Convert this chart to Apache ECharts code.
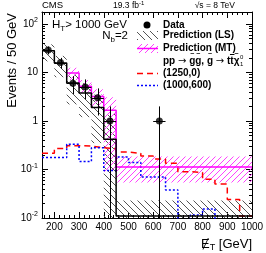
<!DOCTYPE html>
<html><head><meta charset="utf-8">
<script src="https://cdn.jsdelivr.net/npm/echarts@6/dist/echarts.min.js"></script>
<style>html,body{margin:0;padding:0;background:#fff}#c{width:266px;height:253px}</style>
</head><body><div id="c"></div>
<script>
// ---------------- data ----------------
const xTickLabels = [200, 300, 400, 500, 600, 700, 800, 900, 1000];
const yTickLabels = ['10{sup|-2}', '10{sup|-1}', '1', '10', '10{sup|2}'];

const dataX = [175, 225, 275, 325, 375, 425, 625];
const dataY = [29, 16, 6, 5, 3, 1, 1];
const dataErr = [5.4, 4.0, 2.4, 2.2, 1.7, 1.0, 1.0];

const lsEdges = [150, 200, 250, 300, 350, 400, 450, 1000];
const lsCentral = [28, 15.7, 6.1, 3.8, 1.9, 0.42, 0.011];
const lsLow = [17, 8, 2.2, 1.2, 0.35, 0.001, 0.001];
const lsHigh = [38, 22, 9, 6, 3.5, 1.4, 0.023];

const mtEdges = [250, 300, 350, 400, 450, 1000];
const mtCentral = [9.8, 5.2, 3.2, 1.67, 0.113];
const mtLow = [7, 3.8, 2.0, 0.09, 0.054];
const mtHigh = [12.5, 7, 4.5, 3.1, 0.185];

const sigEdges = [150, 200, 250, 300, 350, 400, 450, 500, 550, 600, 650, 700, 750, 800, 850, 900, 950, 1000];
const sig1250 = [0.215, 0.27, 0.31, 0.305, 0.28, 0.27, 0.23, 0.215, 0.19, 0.165, 0.135, 0.09, 0.087, 0.063, 0.05, 0.024, 0.011];
const sig1000 = [0.176, 0.176, 0.33, 0.146, 0.28, 0.095, 0.18, 0.14, 0.07, 0.07, 0.038, 0.001, 0.0115, 0.0153, 0.001, 0.001, 0.001];

// ---------------- helpers ----------------
const FONT = '"Liberation Sans", Arial, Helvetica, sans-serif';
const YMIN = 0.01, YMAX = 176.7, XMIN = 150, XMAX = 1000;

function stepPts(edges, vals) {
  const p = vals.map((v, i) => [edges[i], v]);
  p.push([edges[edges.length - 1], vals[vals.length - 1]]);
  return p;
}
function makeHatch(color, dir, s, lw) {
  const c = document.createElement('canvas'); c.width = s; c.height = s;
  const g = c.getContext('2d'); g.strokeStyle = color; g.lineWidth = lw;
  g.beginPath();
  for (let k = -1; k <= 1; k++) {
    if (dir === '\\') { g.moveTo(k * s, 0); g.lineTo(k * s + s, s); }
    else { g.moveTo(k * s + s, 0); g.lineTo(k * s, s); }
  }
  g.stroke();
  return c;
}
const lsHatch = { image: makeHatch('#555', '\\', 7, 1), repeat: 'repeat' };
const mtHatch = { image: makeHatch('#ff40ff', '/', 6, 1), repeat: 'repeat' };

function bandRender(pattern) {
  return function (params, api) {
    const cs = params.coordSys;
    const a = api.coord([api.value(0), api.value(3)]);
    const b = api.coord([api.value(1), api.value(2)]);
    const y0 = Math.max(a[1], cs.y), y1 = Math.min(b[1], cs.y + cs.height);
    return { type: 'rect', shape: { x: a[0], y: y0, width: b[0] - a[0], height: y1 - y0 },
      style: { fill: pattern, stroke: null } };
  };
}
function bandData(edges, low, high) {
  return low.map((l, i) => [edges[i], edges[i + 1], l, high[i]]);
}

// minor ticks
const xMinor = [];
for (let v = 160; v < 1000; v += 20) if (v % 100 !== 0) xMinor.push(v);
const yMinorLog = [];
for (let e = -2; e <= 2; e++) for (let k = 2; k <= 9; k++) {
  const l = Math.log10(k) + e; if (l < Math.log10(YMAX)) yMinorLog.push(l);
}

const supRich = {
  base: { fontSize: 10, fontFamily: FONT, color: '#000', lineHeight: 14 },
  sup: { fontSize: 7, fontFamily: FONT, color: '#000', verticalAlign: 'top', lineHeight: 9 }
};

// legend signal-process label, built from pieces
const mainFont = 'bold 10px ' + FONT;
const arrowFont = '10px "DejaVu Sans", sans-serif';
const procPieces = [
  { t: 'pp ', f: mainFont }, { t: '\u2192', f: arrowFont }, { t: ' g', f: mainFont, tilde: true },
  { t: 'g', f: mainFont, tilde: true }, { t: ', g', f: mainFont, tilde: true }, { t: ' ', f: mainFont },
  { t: '\u2192', f: arrowFont }, { t: ' t', f: mainFont }, { t: 't', f: mainFont, bar: true },
  { t: '\u03C7', f: mainFont, tilde: true, scripts: true }
];
const mctx = document.createElement('canvas').getContext('2d');
const PX = 163, PY = 61;
const procGraphics = [];
{
  let x = PX;
  procPieces.forEach(p => {
    mctx.font = p.f;
    const w = mctx.measureText(p.t).width;
    procGraphics.push({ type: 'text', x: x, y: PY, style: { text: p.t, font: p.f, fill: '#000', verticalAlign: 'middle' } });
    const lastW = mctx.measureText(p.t[p.t.length - 1]).width;
    const cx = x + w - lastW / 2;
    if (p.tilde) procGraphics.push({ type: 'text', x: cx, y: PY - 6.5,
      style: { text: '~', font: 'bold 7px ' + FONT, fill: '#000', align: 'center', verticalAlign: 'middle' } });
    if (p.bar) procGraphics.push({ type: 'line', shape: { x1: cx - 2, y1: PY - 6.5, x2: cx + 2.5, y2: PY - 6.5 }, style: { stroke: '#000', lineWidth: 1 } });
    if (p.scripts) {
      procGraphics.push({ type: 'text', x: x + w + 0.5, y: PY - 4, style: { text: '0', font: '6px ' + FONT, fill: '#000', verticalAlign: 'middle' } });
      procGraphics.push({ type: 'text', x: x + w + 0.5, y: PY + 3.5, style: { text: '1', font: '6px ' + FONT, fill: '#000', verticalAlign: 'middle' } });
    }
    x += w;
  });
}

const chart = echarts.init(document.getElementById('c'), null, { renderer: 'canvas' });

const axisCommon = { splitLine: { show: false } };
function xAx(pos, major) {
  return Object.assign({ type: 'value', min: XMIN, max: XMAX, position: pos,
    axisLine: { show: major, onZero: false, lineStyle: { color: '#000', width: 1 } },
    axisTick: { show: true, inside: true, length: major ? 6 : 3, customValues: major ? xTickLabels : xMinor, lineStyle: { color: '#000' } },
    axisLabel: (major && pos === 'bottom') ? { show: true, customValues: xTickLabels, margin: 4, fontSize: 10, fontFamily: FONT, color: '#000',
      formatter: v => String(v) } : { show: false } }, axisCommon);
}
function yMinorAx(pos) {
  return Object.assign({ type: 'value', min: -2, max: Math.log10(YMAX), position: pos,
    axisLine: { show: false, onZero: false },
    axisTick: { show: true, inside: true, length: 3, customValues: yMinorLog, lineStyle: { color: '#000' } },
    axisLabel: { show: false } }, axisCommon);
}
const option = {
  animation: false,
  backgroundColor: '#fff',
  grid: { left: 42, right: 14, top: 12, bottom: 35, containLabel: false, outerBoundsMode: 'none' },
  xAxis: [ xAx('bottom', true), xAx('bottom', false), xAx('top', true), xAx('top', false) ],
  yAxis: [
    Object.assign({ type: 'log', logBase: 10, min: YMIN, max: YMAX, position: 'left',
      axisLine: { show: true, onZero: false, lineStyle: { color: '#000', width: 1 } },
      axisTick: { show: true, inside: true, length: 6, lineStyle: { color: '#000' } },
      axisLabel: { show: true, margin: 4, showMaxLabel: false, color: '#000',
        formatter: function (v) {
          const l = Math.log10(v), e = Math.round(l);
          if (Math.abs(l - e) > 0.01) return '';
          const s = yTickLabels[e + 2];
          return s.indexOf('{sup') >= 0 ? s.replace('10{', '{base|10}{') : '{base|' + s + '}';
        }, rich: supRich } }, axisCommon),
    Object.assign({ type: 'log', logBase: 10, min: YMIN, max: YMAX, position: 'right',
      axisLine: { show: true, onZero: false, lineStyle: { color: '#000', width: 1 } },
      axisTick: { show: true, inside: true, length: 6, lineStyle: { color: '#000' } },
      axisLabel: { show: false } }, axisCommon),
    yMinorAx('left'), yMinorAx('right')
  ],
  series: [
    { type: 'custom', name: 'LS band', z: 1, renderItem: bandRender(lsHatch),
      data: bandData(lsEdges, lsLow, lsHigh), silent: true },
    { type: 'custom', name: 'MT band', z: 2, renderItem: bandRender(mtHatch),
      data: bandData(mtEdges, mtLow, mtHigh), silent: true },
    { type: 'line', name: '(1250,0)', z: 3, step: 'end', showSymbol: false, symbol: 'none',
      data: stepPts(sigEdges, sig1250), lineStyle: { color: '#ff0000', width: 1.5, type: [6, 4] } },
    { type: 'line', name: '(1000,600)', z: 3, step: 'end', showSymbol: false, symbol: 'none',
      data: stepPts(sigEdges, sig1000), lineStyle: { color: '#0000ff', width: 1.5, type: [2, 2] } },
    { type: 'line', name: 'Prediction (MT)', z: 4, step: 'end', showSymbol: false, symbol: 'none',
      data: stepPts(mtEdges, mtCentral), lineStyle: { color: '#ff00ff', width: 1.5 } },
    { type: 'line', name: 'Prediction (LS)', z: 5, step: 'end', showSymbol: false, symbol: 'none',
      data: stepPts(lsEdges, lsCentral), lineStyle: { color: '#000', width: 1.5 } },
    { type: 'custom', name: 'Data errors', z: 6, silent: true,
      data: dataX.map((x, i) => [x, dataY[i], dataErr[i]]),
      renderItem: function (params, api) {
        const x = api.value(0), y = api.value(1), e = api.value(2);
        const top = api.coord([x, y + e]);
        const bot = api.coord([x, Math.max(y - e, YMIN)]);
        const l = api.coord([x - 25, y]), r = api.coord([x + 25, y]);
        const cx = Math.round(top[0]) + 0.5, cy = Math.round(l[1]) + 0.5;
        return { type: 'group', children: [
          { type: 'line', shape: { x1: cx, y1: top[1], x2: cx, y2: bot[1] }, style: { stroke: '#000', lineWidth: 1 } },
          { type: 'line', shape: { x1: l[0], y1: cy, x2: r[0], y2: cy }, style: { stroke: '#000', lineWidth: 1 } }
        ] };
      } },
    { type: 'scatter', name: 'Data', z: 7, symbol: 'circle', symbolSize: 7,
      data: dataX.map((x, i) => [x, dataY[i]]), itemStyle: { color: '#000' } }
  ],
  graphic: [
    { type: 'text', x: 42, y: 5.5, style: { text: 'CMS', font: '9.5px ' + FONT, fill: '#000', verticalAlign: 'middle' } },
    { type: 'text', x: 113, y: 5.5, style: { text: '{b|19.3 fb}{s|-1}', verticalAlign: 'middle',
      rich: { b: { fontSize: 8.5, fontFamily: FONT, color: '#000', lineHeight: 11 }, s: { fontSize: 6, fontFamily: FONT, color: '#000', verticalAlign: 'top', lineHeight: 7 } } } },
    { type: 'text', x: 235, y: 5.5, style: { text: '\u221As = 8 TeV', font: '8.5px ' + FONT, fill: '#000', align: 'right', verticalAlign: 'middle' } },
    { type: 'text', x: 52, y: 25, style: { text: '{b|H}{s|T}{b|> 1000 GeV}', verticalAlign: 'middle',
      rich: { b: { fontSize: 11.5, fontFamily: FONT, color: '#000', lineHeight: 15 }, s: { fontSize: 8, fontFamily: FONT, color: '#000', verticalAlign: 'bottom', lineHeight: 9 } } } },
    { type: 'text', x: 128, y: 36, style: { text: '{b|N}{s|b}{b|=2}', align: 'right', verticalAlign: 'middle',
      rich: { b: { fontSize: 11.5, fontFamily: FONT, color: '#000', lineHeight: 15 }, s: { fontSize: 8, fontFamily: FONT, color: '#000', verticalAlign: 'bottom', lineHeight: 9 } } } },
    // legend
    { type: 'circle', shape: { cx: 147, cy: 25, r: 3.5 }, style: { fill: '#000' } },
    { type: 'text', x: 163, y: 25, style: { text: 'Data', font: mainFont, fill: '#000', verticalAlign: 'middle' } },
    { type: 'rect', shape: { x: 137, y: 31, width: 21, height: 9 }, style: { fill: lsHatch } },
    { type: 'text', x: 163, y: 35.5, style: { text: 'Prediction (LS)', font: mainFont, fill: '#000', verticalAlign: 'middle' } },
    { type: 'rect', shape: { x: 137, y: 44, width: 21, height: 9 }, style: { fill: mtHatch } },
    { type: 'line', shape: { x1: 137, y1: 48.5, x2: 158, y2: 48.5 }, style: { stroke: '#ff00ff', lineWidth: 1.5 } },
    { type: 'text', x: 163, y: 48, style: { text: 'Prediction (MT)', font: mainFont, fill: '#000', verticalAlign: 'middle' } }
  ].concat(procGraphics).concat([
    { type: 'line', shape: { x1: 137, y1: 73.5, x2: 158, y2: 73.5 }, style: { stroke: '#ff0000', lineWidth: 1.5, lineDash: [6, 4] } },
    { type: 'text', x: 163, y: 73, style: { text: '(1250,0)', font: mainFont, fill: '#000', verticalAlign: 'middle' } },
    { type: 'line', shape: { x1: 137, y1: 85.5, x2: 158, y2: 85.5 }, style: { stroke: '#0000ff', lineWidth: 1.5, lineDash: [2, 2] } },
    { type: 'text', x: 163, y: 85, style: { text: '(1000,600)', font: mainFont, fill: '#000', verticalAlign: 'middle' } },
    // axis titles
    { type: 'text', x: 12, y: 13, rotation: Math.PI / 2, style: { text: 'Events / 50 GeV', font: '13px ' + FONT, fill: '#000', align: 'right', verticalAlign: 'middle' } },
    { type: 'text', x: 252, y: 244, style: { text: '{b|\u0246}{s|T}{b| [GeV]}', align: 'right', verticalAlign: 'middle',
      rich: { b: { fontSize: 13, fontFamily: FONT, color: '#000', lineHeight: 16 }, s: { fontSize: 9, fontFamily: FONT, color: '#000', verticalAlign: 'bottom', lineHeight: 10 } } } }
  ])
};
option.series.forEach(s => { s.xAxisIndex = 0; s.yAxisIndex = 0; s.clip = true; });
chart.setOption(option);
</script></body></html>
